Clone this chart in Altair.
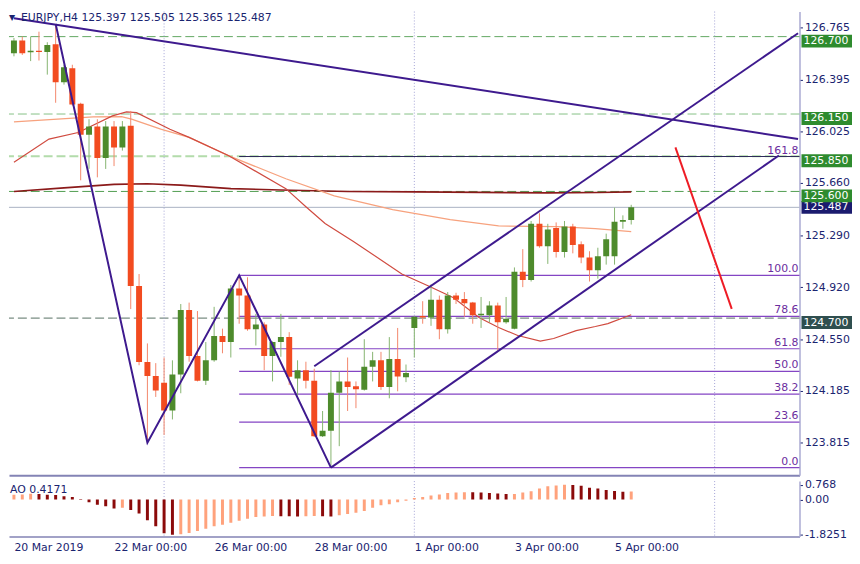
import altair as alt
import numpy as np
import pandas as pd

# ---------------- data ----------------
opens = [126.582, 126.673, 126.588, 126.600, 126.590, 126.645, 126.376, 126.476, 126.223, 126.003,
         126.061, 125.838, 126.061, 125.913, 126.066, 124.928, 124.388, 124.288, 124.240, 124.043,
         124.300, 124.757, 124.430, 124.255, 124.400, 124.572, 124.530, 124.910, 124.860, 124.620,
         124.655, 124.430, 124.530, 124.565, 124.270, 124.330, 124.255, 123.860, 123.900, 124.170,
         124.250, 124.215, 124.190, 124.355, 124.400, 124.210, 124.410, 124.280, 124.630, 124.715,
         124.705, 124.830, 124.620, 124.860, 124.835, 124.810, 124.720, 124.720, 124.790, 124.670,
         124.624, 125.030, 124.970, 125.370, 125.210, 125.340, 125.170, 125.350, 125.225, 125.130,
         125.040, 125.140, 125.140, 125.385, 125.397]
highs = [126.690, 126.700, 126.700, 126.735, 126.660, 126.790, 126.500, 126.500, 126.230, 126.113,
         126.113, 126.100, 126.100, 126.100, 126.172, 125.013, 124.520, 124.380, 124.420, 124.400,
         124.800, 124.810, 124.750, 124.530, 124.780, 124.625, 124.935, 125.004, 124.990, 124.730,
         124.670, 124.535, 124.730, 124.600, 124.400, 124.390, 124.340, 124.040, 124.330, 124.320,
         124.420, 124.250, 124.550, 124.460, 124.460, 124.565, 124.630, 124.370, 124.715, 124.820,
         124.940, 124.860, 124.885, 124.880, 124.885, 124.815, 124.850, 124.820, 124.810, 124.850,
         125.060, 125.190, 125.390, 125.445, 125.370, 125.380, 125.390, 125.370, 125.245, 125.175,
         125.200, 125.300, 125.485, 125.430, 125.505]
lows = [126.560, 126.570, 126.526, 126.530, 126.430, 126.230, 126.359, 126.210, 125.679, 125.761,
        125.700, 125.760, 125.780, 125.890, 124.764, 124.365, 123.814, 124.140, 123.870, 123.980,
        124.166, 124.390, 124.250, 124.225, 124.390, 124.450, 124.420, 124.660, 124.610, 124.505,
        124.330, 124.250, 124.425, 124.225, 124.150, 124.200, 123.855, 123.855, 123.638, 123.790,
        124.040, 124.060, 124.185, 124.250, 124.190, 124.130, 124.180, 124.245, 124.420, 124.660,
        124.645, 124.550, 124.590, 124.800, 124.710, 124.660, 124.630, 124.670, 124.470, 124.660,
        124.620, 124.920, 124.960, 125.200, 125.085, 125.130, 125.130, 125.160, 125.090, 124.960,
        124.980, 125.080, 125.080, 125.335, 125.365]
closes = [126.673, 126.582, 126.600, 126.590, 126.640, 126.376, 126.483, 126.218, 126.003, 126.061,
          125.838, 126.061, 125.913, 126.061, 124.928, 124.388, 124.288, 124.186, 124.043, 124.300,
          124.757, 124.430, 124.255, 124.400, 124.572, 124.530, 124.910, 124.860, 124.620, 124.655,
          124.430, 124.530, 124.565, 124.283, 124.330, 124.255, 123.860, 123.900, 124.170, 124.250,
          124.210, 124.195, 124.355, 124.400, 124.210, 124.410, 124.285, 124.310, 124.710, 124.705,
          124.830, 124.620, 124.860, 124.830, 124.805, 124.720, 124.730, 124.790, 124.670, 124.695,
          125.029, 124.970, 125.370, 125.210, 125.330, 125.170, 125.350, 125.220, 125.130, 125.040,
          125.140, 125.260, 125.385, 125.397, 125.487]
bar_idx = list(range(len(opens)))

ao_values = [0.25, 0.27, 0.30, 0.29, 0.25, 0.24, 0.18, 0.13, -0.02, -0.14,
             -0.27, -0.35, -0.46, -0.43, -0.54, -0.72, -1.07, -1.39, -1.75, -1.8251,
             -1.80, -1.74, -1.63, -1.52, -1.39, -1.31, -1.20, -1.10, -0.99, -0.91,
             -0.88, -0.85, -0.86, -0.87, -0.88, -0.87, -0.85, -0.86, -0.88, -0.82,
             -0.75, -0.69, -0.59, -0.43, -0.30, -0.24, -0.14, -0.06, 0.08, 0.13,
             0.21, 0.27, 0.34, 0.37, 0.385, 0.38, 0.37, 0.34, 0.32, 0.29,
             0.295, 0.37, 0.43, 0.58, 0.69, 0.74, 0.768, 0.76, 0.72, 0.62,
             0.58, 0.50, 0.45, 0.41, 0.4171]

ma_slow_idx = [0, 6, 12, 16, 20, 26, 32, 40, 48, 56, 64, 70, 74]
ma_slow_val = [125.600, 125.625, 125.650, 125.655, 125.645, 125.620, 125.610, 125.600, 125.597,
               125.593, 125.590, 125.592, 125.597]
ma_mid_idx = [0, 9.5, 12.9, 14.1, 17.6, 21.0, 25.7, 32.6, 38.4, 45.4, 52.3, 58.1, 65.1, 69.7, 74]
ma_mid_val = [126.094, 126.130, 126.132, 126.113, 126.042, 125.984, 125.855, 125.690, 125.569,
              125.470, 125.400, 125.355, 125.350, 125.336, 125.315]
ma_fast_idx = [0, 4.2, 7.7, 11.8, 13.5, 14.7, 18.7, 21.0, 25.7, 32.6, 35.0, 37.3, 40.7, 46.5, 49.7,
               52.7, 55.8, 58.1, 60.4, 63.1, 64.7, 67.4, 69.7, 71.2, 74]
ma_fast_val = [125.808, 125.972, 126.019, 126.137, 126.165, 126.160, 126.042, 125.984, 125.855,
               125.620, 125.491, 125.372, 125.245, 125.013, 124.928, 124.844, 124.703, 124.633,
               124.576, 124.536, 124.555, 124.611, 124.640, 124.661, 124.724]

trend_id = ["down", "down", "zz", "zz", "zz", "zz", "up", "up", "lo", "lo"]
trend_idx = [0, 94, 5, 16, 27, 38, 36, 94, 38, 91.7]
trend_price = [126.830, 125.973, 126.790, 123.814, 125.004, 123.638, 124.358, 126.724, 123.638, 125.855]
red_idx = [79.3, 86.05]
red_price = [125.913, 124.766]

fib_levels = [0.0, 23.6, 38.2, 50.0, 61.8, 78.6, 100.0]
fib_ext_levels = [161.8]
fib_low, fib_high, fib_start = 123.638, 125.004, 27

level_prices = [126.700, 126.150, 125.850, 125.600, 124.700]
level_colors = ["#62A862", "#86C086", "#B3DCAB", "#4E9C4E", "#566E62"]
level_widths = [1, 1, 2, 1, 1]
bid_price = 125.487

box_prices = [126.700, 126.150, 125.850, 125.600, 124.700]
box_colors = ["#2E8B2E", "#2E8B2E", "#2E8B2E", "#2E8B2E", "#2F4F4F"]
bid_box_color = "#1B1B6E"

price_ticks = [123.815, 124.185, 124.550, 124.920, 125.290, 125.660, 126.025, 126.395, 126.765]
date_tick_idx = [0, 12, 24, 36, 48, 60, 72]
date_tick_labels = ["20 Mar 2019", "22 Mar 00:00", "26 Mar 00:00", "28 Mar 00:00",
                    "1 Apr 00:00", "3 Apr 00:00", "5 Apr 00:00"]
separator_idx = [18, 48, 84]
ao_ticks = [0.768, 0.0, -1.8251]
ao_tick_labels = ["0.768", "0.00", "-1.8251"]

title_text = "EURJPY,H4  125.397 125.505 125.365 125.487"
ao_title = "AO 0.4171"

# ---------------- style ----------------
FONT = "DejaVu Sans"
TXT = "#1A2470"
W, H_MAIN, H_AO = 798, 468, 56
xs = alt.Scale(domain=[0, 93.58], nice=False, zero=False)
ys = alt.Scale(domain=[123.584, 126.878], nice=False, zero=False)
aos = alt.Scale(domain=[-1.923, 0.962], nice=False, zero=False)

main_x_axis = alt.Axis(labels=False, ticks=False, grid=False, domain=True,
                       domainColor="#8383B5", domainWidth=2, title=None)
main_y_axis = alt.Axis(orient="right", values=price_ticks, format=".3f", grid=False, title=None,
                       labelFont=FONT, labelFontSize=11, labelColor=TXT, tickSize=3,
                       tickColor=TXT, domainColor="#AAAAD2", domainWidth=1.5, labelPadding=2,
                       labelOverlap=False)


def MX(f):
    return alt.X(f"{f}:Q", scale=xs, axis=main_x_axis)


def MY(f):
    return alt.Y(f"{f}:Q", scale=ys, axis=main_y_axis)


cd = pd.DataFrame({"i": bar_idx, "o": opens, "h": highs, "l": lows, "c": closes})
up = cd["c"] >= cd["o"]
cd["body"] = np.where(up, "#4E8B2C", "#F24B20")
cd["wick"] = np.where(up, "#86B46F", "#F3876B")

layers = []
# horizontal levels
for p, col, w in zip(level_prices, level_colors, level_widths):
    layers.append(alt.Chart(pd.DataFrame({"p": [p]})).mark_rule(
        color=col, strokeWidth=w, strokeDash=[9, 4]).encode(y=MY("p")))
layers.append(alt.Chart(pd.DataFrame({"p": [bid_price]})).mark_rule(
    color="#A9B1C2", strokeWidth=1).encode(y=MY("p")))

# separators
sep = pd.DataFrame({"i": separator_idx})
layers.append(alt.Chart(sep).mark_rule(color="#A3A3D6", strokeDash=[1, 2], strokeWidth=1)
              .encode(x=MX("i")))


# fibonacci
def fib_frame(levels):
    f = pd.DataFrame({"lvl": levels})
    f["p"] = fib_low + f["lvl"] / 100.0 * (fib_high - fib_low)
    f["i"] = fib_start
    f["lab"] = f["lvl"].map(lambda v: f"{v:.1f}")
    return f


fib = fib_frame(fib_levels)
fib_ext = fib_frame(fib_ext_levels)
layers.append(alt.Chart(fib).mark_rule(strokeWidth=1.2, color="#8445C4").encode(
    x=MX("i"), x2=alt.value(W), y=MY("p")))
layers.append(alt.Chart(fib_ext).mark_rule(strokeWidth=1.2, color="#2E2C5A").encode(
    x=MX("i"), x2=alt.value(W), y=MY("p")))
layers.append(alt.Chart(pd.concat([fib, fib_ext])).mark_text(
    align="right", baseline="bottom", dy=-1, font=FONT, fontSize=11, color="#6B2D9E").encode(
    x=alt.value(W - 1), y=MY("p"), text="lab:N"))

# moving averages
for idxs, vals, col, w in [(ma_slow_idx, ma_slow_val, "#8B1A1A", 1.6),
                           (ma_mid_idx, ma_mid_val, "#F7A27E", 1.3),
                           (ma_fast_idx, ma_fast_val, "#D04B40", 1.2)]:
    layers.append(alt.Chart(pd.DataFrame({"i": idxs, "v": vals})).mark_line(
        color=col, strokeWidth=w, clip=True).encode(x=MX("i"), y=MY("v")))

# candles
layers.append(alt.Chart(cd).mark_rule(strokeWidth=1, clip=True).encode(
    x=MX("i"), y=MY("l"), y2="h:Q", color=alt.Color("wick:N", scale=None)))
layers.append(alt.Chart(cd).mark_bar(size=6, clip=True).encode(
    x=MX("i"), y=MY("o"), y2="c:Q", color=alt.Color("body:N", scale=None)))

# trend lines
tl = pd.DataFrame({"id": trend_id, "i": trend_idx, "p": trend_price})
layers.append(alt.Chart(tl).mark_line(color="#3E1A8E", strokeWidth=2, clip=True).encode(
    x=MX("i"), y=MY("p"), detail="id:N"))
layers.append(alt.Chart(pd.DataFrame({"i": red_idx, "p": red_price})).mark_line(
    color="#EE1C25", strokeWidth=2, clip=True).encode(x=MX("i"), y=MY("p")))

# title
layers.append(alt.Chart(pd.DataFrame({"t": ["\u25BC"]})).mark_text(
    align="left", baseline="top", font=FONT, fontSize=8, color=TXT).encode(
    x=alt.value(0), y=alt.value(3), text="t:N"))
layers.append(alt.Chart(pd.DataFrame({"t": [title_text]})).mark_text(
    align="left", baseline="top", font=FONT, fontSize=11, color=TXT).encode(
    x=alt.value(12), y=alt.value(1), text="t:N"))

# price label boxes
bid = pd.DataFrame({"p": [bid_price], "lab": [f"{bid_price:.3f}"], "col": [bid_box_color]})
layers.append(alt.Chart(bid).mark_tick(size=51, thickness=13, opacity=1, clip=False).encode(
    y=MY("p"), x=alt.value(W + 27.5), color=alt.Color("col:N", scale=None)))
layers.append(alt.Chart(bid).mark_text(align="left", baseline="middle", font=FONT, fontSize=11,
                                       color="white").encode(
    y=MY("p"), x=alt.value(W + 4), text="lab:N"))
bx = pd.DataFrame({"p": box_prices, "lab": [f"{v:.3f}" for v in box_prices], "col": box_colors})
layers.append(alt.Chart(bx).mark_tick(size=51, thickness=13, opacity=1, yOffset=4.5,
                                      clip=False).encode(
    y=MY("p"), x=alt.value(W + 27.5), color=alt.Color("col:N", scale=None)))
layers.append(alt.Chart(bx).mark_text(align="left", baseline="middle", dy=4.5, font=FONT,
                                      fontSize=11, color="white").encode(
    y=MY("p"), x=alt.value(W + 4), text="lab:N"))

main = alt.layer(*layers).properties(width=W, height=H_MAIN)

# ---------------- AO panel ----------------
ao = pd.DataFrame({"i": bar_idx, "v": ao_values})
prev = ao["v"].shift(1)
ao["col"] = np.where((prev.isna()) | (ao["v"] >= prev), "#FFA27C", "#8B0A0A")

date_expr = " : ".join(f"datum.value == {v} ? '{t}'" for v, t in zip(date_tick_idx, date_tick_labels)) + " : ''"
ao_expr = " : ".join(f"abs(datum.value - ({v})) < 1e-6 ? '{t}'" for v, t in zip(ao_ticks, ao_tick_labels)) + " : ''"

ao_x_axis = alt.Axis(values=date_tick_idx, labelExpr=date_expr, labelAlign="left", labelFont=FONT,
                     labelFontSize=11, labelColor=TXT, ticks=False, grid=False, domain=True,
                     domainColor="#8383B5", domainWidth=1.5, labelPadding=5, title=None,
                     labelOverlap=False, labelFlush=False, labelBound=False)
ao_y_axis = alt.Axis(orient="right", values=ao_ticks, labelExpr=ao_expr, grid=False, title=None,
                     labelFont=FONT, labelFontSize=11, labelColor=TXT, tickSize=3, tickColor=TXT,
                     domainColor="#AAAAD2", domainWidth=1.5, labelPadding=2, labelOverlap=False)

ao_layers = [
    alt.Chart(pd.DataFrame({"i": separator_idx})).mark_rule(
        color="#A3A3D6", strokeDash=[1, 2], strokeWidth=1).encode(
        x=alt.X("i:Q", scale=xs, axis=ao_x_axis)),
    alt.Chart(ao).mark_bar(size=3, clip=True).encode(
        x=alt.X("i:Q", scale=xs, axis=ao_x_axis),
        y=alt.Y("v:Q", scale=aos, axis=ao_y_axis),
        y2=alt.datum(0),
        color=alt.Color("col:N", scale=None)),
    alt.Chart(pd.DataFrame({"t": [ao_title]})).mark_text(
        align="left", baseline="top", font=FONT, fontSize=11, color=TXT).encode(
        x=alt.value(1), y=alt.value(3), text="t:N"),
]
ao_chart = alt.layer(*ao_layers).properties(width=W, height=H_AO)

chart = alt.vconcat(main, ao_chart, spacing=2).properties(
    padding=0, background="white"
).configure_view(stroke=None)

chart.save("out.html", embed_options={"renderer": "svg", "actions": False})
